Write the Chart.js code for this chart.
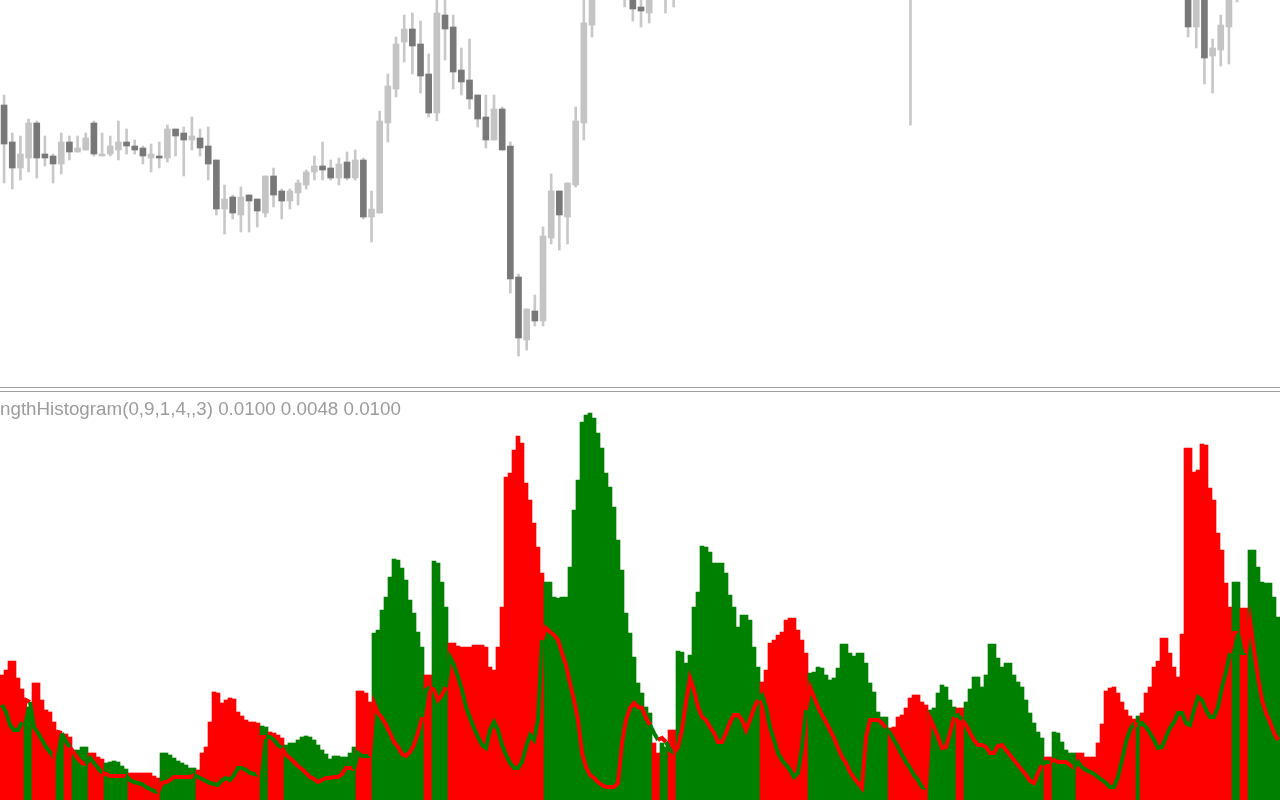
<!DOCTYPE html>
<html>
<head>
<meta charset="utf-8">
<script src="https://cdn.jsdelivr.net/npm/chart.js@4.4.1/dist/chart.umd.min.js"></script>
<style>
  html, body { margin: 0; padding: 0; background: #fff; }
  #wrap { position: relative; width: 1280px; height: 800px; overflow: hidden; background: #fff; }
  #priceChart { position: absolute; left: 0; top: 0; }
  #strengthChart { position: absolute; left: 0; top: 393px; }
  .sep { position: absolute; left: 0; width: 1280px; height: 1px; background: #a0a0a0; }
  #label { position: absolute; left: 0; top: 400px; font: 18.8px "Liberation Sans"; line-height: 18.8px; color: #9c9c9c; white-space: nowrap; }
</style>
</head>
<body>
<div id="wrap">
  <canvas id="priceChart" width="1282" height="385"></canvas>
  <div class="sep" style="top:387px"></div>
  <div class="sep" style="top:391px"></div>
  <canvas id="strengthChart" width="1280" height="407"></canvas>
  <div id="label">ngthHistogram(0,9,1,4,,3) 0.0100 0.0048 0.0100</div>
</div>
<script>
// candles (price in chart points, higher = up)
const opens = [
  295,258,232,242,277,246,244,236,258,248, 250,277,244,246,250,258,254,252,242,244,
  242,271,267,260,262,254,240,191,203,185, 205,201,187,224,209,199,207,215,228,234,
  232,222,238,222,240,183,187,277,311,358, 371,356,326,287,385,373,330,320,305,283,
  260,291,254,123,60,89,79,162,209,183, 215,277,375,430,455,480,470,420,393,387,
  415,425,418,430,446,462,455,448,470,488, 480,465,476,494,505,496,482,470,484,502,
  514,502,488,474,458,466,478,468,454,446, 452,440,430,444,458,470,462,468,486,478,
  464,450,462,476,466,452,440,452,466,456, 444,436,446,456,446,432,440,450,440,426,
  436,444,434,422,430,420,373,415,344,350, 373,420,440,452,464,456,462
];
const highs = [
  305,267,264,281,279,264,246,267,264,264, 267,279,267,264,279,271,260,254,256,258,
  275,271,273,283,271,273,240,215,205,213, 205,201,224,232,211,211,220,230,244,258,
  240,242,248,250,242,209,289,326,363,385, 387,379,346,405,402,385,352,361,305,305,
  305,293,258,126,91,105,173,226,209,217, 293,410,445,470,490,500,485,430,410,425,
  430,440,445,452,470,478,468,475,492,500, 486,480,498,512,515,502,490,486,506,520,
  522,510,496,480,470,482,486,474,462,458, 460,452,448,462,476,480,474,490,498,484,
  470,466,480,484,472,458,456,470,474,462, 452,450,460,462,452,444,456,458,446,440,
  448,450,440,436,438,430,425,420,361,385, 430,450,458,470,472,468,480
];
const lows = [
  217,211,220,228,222,234,217,226,240,248, 250,244,244,244,240,246,246,236,228,232,
  238,244,224,250,244,220,185,166,181,168, 168,173,183,193,181,191,195,211,220,220,
  220,215,220,220,181,158,187,258,303,338, 326,307,283,279,340,311,305,291,273,252,
  260,250,107,44,50,74,74,156,150,156, 213,260,363,415,440,445,393,379,373,377,
  405,387,393,424,440,450,442,444,465,476, 460,455,470,488,490,478,466,462,480,495,
  498,485,470,452,448,460,462,450,440,438, 436,275,424,438,452,456,450,464,474,460,
  446,444,458,462,448,436,434,448,452,440, 430,428,440,442,428,424,434,436,422,418,
  428,430,418,414,412,363,352,316,307,334, 336,398,432,446,450,444,458
];
const closes = [
  256,232,246,277,242,242,236,258,248,252, 262,246,246,254,258,254,250,244,246,242,
  271,264,260,264,252,236,191,201,187,203, 199,189,224,205,199,209,217,228,234,230,
  222,236,222,240,183,191,279,314,356,371, 354,324,287,387,371,328,318,301,281,260,
  291,250,121,62,91,79,164,209,185,217, 279,377,430,455,480,470,410,391,389,415,
  425,418,430,446,462,455,448,470,488,480, 465,476,494,505,496,482,470,484,502,514,
  502,488,474,458,466,478,468,454,446,452, 440,430,444,458,470,462,468,486,478,464,
  450,462,476,466,452,440,452,466,456,444, 436,446,456,446,432,440,450,440,426,436,
  444,434,422,430,420,373,415,342,352,375, 420,440,452,464,456,462,474
];

// strength histogram: bar height, dominant side (run lengths), signal line
const strength = [
  125,130,139,139,122,111,93,93,117,117, 100,90,88,78,66,65,66,63,50,50,
  53,53,47,47,43,41,37,38,39,38, 34,31,27,27,27,27,27,27,24,22,
  47,47,45,42,39,37,35,32,32,30, 47,53,78,108,107,97,100,102,101,88,
  84,80,78,78,77,74,73,68,67,65, 62,55,57,57,60,63,64,63,60,55,
  50,46,41,44,44,43,43,47,53,109, 109,107,98,167,170,190,203,223,241,240,
  232,220,200,187,168,153,125,125,239,237, 218,193,157,157,154,153,153,153,155,155,
  155,153,133,130,153,193,323,327,350,364, 357,317,300,277,253,227,218,218,203,202,
  203,203,233,290,320,378,385,387,382,367, 352,327,313,293,260,230,187,167,143,117,
  107,93,87,57,47,57,53,70,70,149, 148,137,145,193,208,254,253,248,237,237,
  237,227,205,193,173,185,185,180,153,133, 118,130,157,160,165,168,180,182,182,170,
  160,147,127,128,133,132,125,120,122,132, 156,156,147,144,147,147,137,117,108,88,
  83,83,72,73,83,85,92,102,105,105, 98,95,90,92,107,115,113,100,93,92,
  92,98,111,123,123,113,125,156,156,142, 133,137,137,125,118,113,100,87,77,68,
  62,43,43,68,67,58,50,47,47,47, 47,43,43,43,57,76,109,112,113,107,
  98,90,84,81,84,87,107,113,133,139, 162,162,147,133,123,166,352,352,328,330,
  356,355,312,300,267,250,217,193,218,218, 192,192,250,250,233,218,217,217,203,183
];
const sideRuns = [
  ['R',6],['G',2],['R',6],['G',2],['R',2],['G',4],['R',4],['G',6],['R',8],['G',9],
  ['R',16],['G',2],['R',4],['G',9],
  ['G',9],['R',4],['G',13],['R',2],['G',4],['R',24],['G',24],
  ['G',3],['R',2],['G',2],['R',2],['G',21],['R',12],['G',20],['R',10],['G',7],['R',1],
  ['R',1],['G',20],['R',2],['G',6],['R',15],['G',1],['R',23],['G',2],['R',2],['G',8]
];
const signal = [
  95,88,75,70,70,78,100,98,73,67, 60,53,48,43,68,67,58,53,47,41,
  37,36,42,37,32,27,26,24,24,24, 24,24,20,18,17,16,13,11,9,8,
  17,18,20,23,23,23,23,23,25,23, 21,19,17,16,15,20,22,20,25,32,
  32,30,27,26,25,63,63,63,60,55, 52,45,42,38,34,31,27,23,21,18,
  20,22,22,23,23,26,32,32,31,47, 44,44,44,97,87,82,75,67,58,53,
  46,44,48,55,67,83,110,113,110,100, 105,113,143,135,123,110,93,82,72,63,
  55,52,70,78,70,55,45,37,32,32, 38,53,65,60,80,160,172,168,165,160,
  147,135,117,100,80,47,33,25,22,18, 15,13,13,13,17,57,80,92,97,93,
  92,82,75,67,60,62,58,50,47,53, 70,98,122,110,93,83,80,73,67,58,
  58,67,78,85,85,80,70,80,92,100, 105,93,73,60,47,40,35,30,23,27,
  53,90,113,103,93,85,78,70,62,52, 43,37,28,22,17,12,63,80,80,80,
  77,72,67,60,53,45,38,32,25,20, 13,12,82,73,63,52,53,67,83,85,
  80,75,67,60,55,55,53,47,47,54, 55,50,45,40,35,30,25,19,17,27,
  35,38,38,40,38,38,38,35,32,38, 33,30,28,26,23,20,17,13,13,23,
  40,58,70,77,74,77,73,67,60,52, 53,63,72,78,87,87,77,75,90,103,
  100,90,83,83,93,113,128,147,167,167, 147,147,180,150,123,100,87,78,67,60
];

const RED = '#ff0000';
const GREEN = '#008000';
const side = sideRuns.flatMap(([s, n]) => Array(n).fill(s));
const barColors = side.map(s => s === 'R' ? RED : GREEN);
const lineColors = side.map(s => s === 'R' ? GREEN : RED);

const bareOptions = (yMin, yMax) => ({
    responsive: false,
    animation: false,
    events: [],
    layout: { padding: 0 },
    plugins: { legend: { display: false }, tooltip: { enabled: false } },
    scales: {
        x: { display: false },
        y: { display: false, min: yMin, max: yMax }
    }
});

new Chart("priceChart", {
    type: "bar",
    data: {
        labels: opens.map((_, i) => i),
        datasets: [{
            data: opens.map((o, i) => [o, closes[i]]),
            backgroundColor: opens.map((o, i) => closes[i] >= o ? '#c4c4c4' : '#787878'),
            barThickness: 6,
            grouped: false,
            order: 1
        }, {
            data: lows.map((l, i) => [l, highs[i]]),
            backgroundColor: '#c8c8c8',
            barThickness: 2,
            grouped: false,
            order: 2
        }]
    },
    options: bareOptions(15, 400)
});

new Chart("strengthChart", {
    type: "bar",
    data: {
        labels: strength.map((_, i) => i),
        datasets: [{
            type: "line",
            data: signal,
            borderWidth: 4,
            pointRadius: 0,
            tension: 0,
            segment: { borderColor: ctx => lineColors[ctx.p1DataIndex] },
            borderColor: RED,
            order: 1
        }, {
            data: strength,
            backgroundColor: barColors,
            categoryPercentage: 1,
            barPercentage: 1,
            order: 2
        }]
    },
    options: bareOptions(0, 407)
});
</script>
</body>
</html>
